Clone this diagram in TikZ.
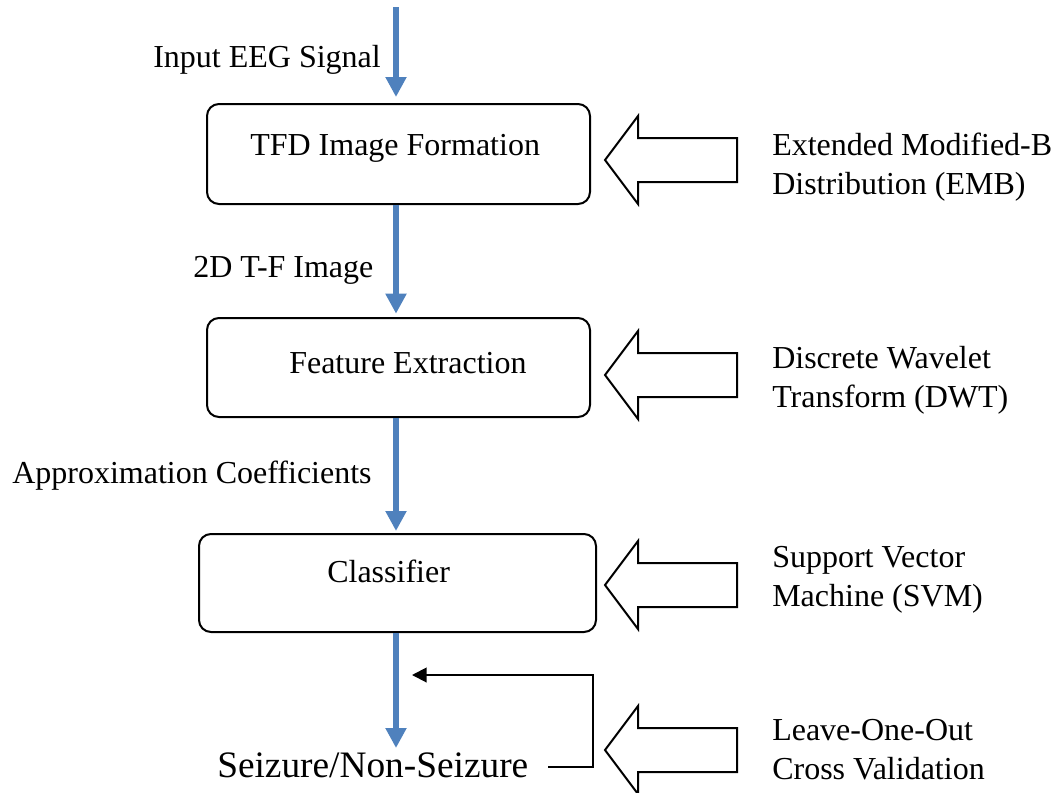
\documentclass[tikz,border=0pt]{standalone}
\usepackage{fontspec}
\setmainfont{Liberation Serif}
\usetikzlibrary{arrows.meta}
\definecolor{flowblue}{HTML}{4F81BD}
\tikzset{
  px/.style={x=0.75pt,y=-0.75pt},
  stagebox/.style={draw=black,line width=1.5pt,rounded corners=9pt,inner sep=0pt},
  lbl/.style={inner sep=0pt,anchor=base west,font=\fontsize{24}{29}\selectfont},
  side/.style={inner sep=0pt,anchor=base west,align=left,font=\fontsize{24}{29}\selectfont},
  flow/.style={draw=flowblue,line width=5pt,-{Triangle[width=15pt,length=15pt]}},
  feedback/.style={draw=black,line width=1.5pt,-{Triangle[width=11pt,length=11pt]}},
  hollow/.style={draw=black,line width=1.5pt,fill=white,line join=miter}
}
\newcommand\bigleftarrow[1]{%
  \draw[hollow] (605,#1) -- (638,{#1-44}) -- (638,{#1-22}) -- (737,{#1-22})
    -- (737,{#1+22}) -- (638,{#1+22}) -- (638,{#1+44}) -- cycle;}
\begin{document}
\begin{tikzpicture}[px]
\useasboundingbox (0,0) rectangle (1061,793);
\clip (0,0) rectangle (1061,793);

% boxes
\node[stagebox,minimum width=383*0.75pt,minimum height=100*0.75pt] (b1) at (398.5,154) {};
\node[stagebox,minimum width=383*0.75pt,minimum height=99*0.75pt] (b2) at (398.5,367.5) {};
\node[stagebox,minimum width=397*0.75pt,minimum height=98*0.75pt] (b3) at (397.5,583) {};

% box texts
\node[lbl] (t1) at (250,155) {TFD Image Formation};
\node[lbl] (t2) at (289,373) {Feature Extraction};
\node[lbl] (t3) at (327,582) {Classifier};

% flow labels
\node[lbl] (l1) at (153,67) {Input EEG Signal};
\node[lbl] (l2) at (193,277) {2D T-F Image};
\node[lbl] (l3) at (12,483) {Approximation Coefficients};

% output
\node[inner sep=0pt,anchor=base west,font=\fontsize{28}{32}\selectfont] (sz) at (217,777) {Seizure/Non-Seizure};

% blue flow arrows
\coordinate (start) at (396,7);
\coordinate (outpt) at (396,748);
\draw[flow] (start) -- ([yshift=4.5pt]start |- b1.north);
\draw[flow] (start |- b1.south) -- ([yshift=2.5pt]start |- b2.north);
\draw[flow] (start |- b2.south) -- ([yshift=1.5pt]start |- b3.north);
\draw[flow] (start |- b3.south) -- (outpt);

% feedback
\coordinate (fbstart) at (548,767);
\coordinate (fbcorner) at (593,675);
\coordinate (fbend) at (412,675);
\draw[feedback] (fbstart) -| (fbcorner) -- (fbend);

% hollow arrows
\bigleftarrow{160}
\bigleftarrow{375}
\bigleftarrow{585}
\bigleftarrow{750}

% side texts (base anchor = last line)
\node[side] (s1) at (772,194) {Extended Modified-B\\Distribution (EMB)};
\node[side] (s2) at (772,407) {Discrete Wavelet\\Transform (DWT)};
\node[side] (s3) at (772,606) {Support Vector\\Machine (SVM)};
\node[side] (s4) at (772,779) {Leave-One-Out\\Cross Validation};
\end{tikzpicture}
\end{document}
